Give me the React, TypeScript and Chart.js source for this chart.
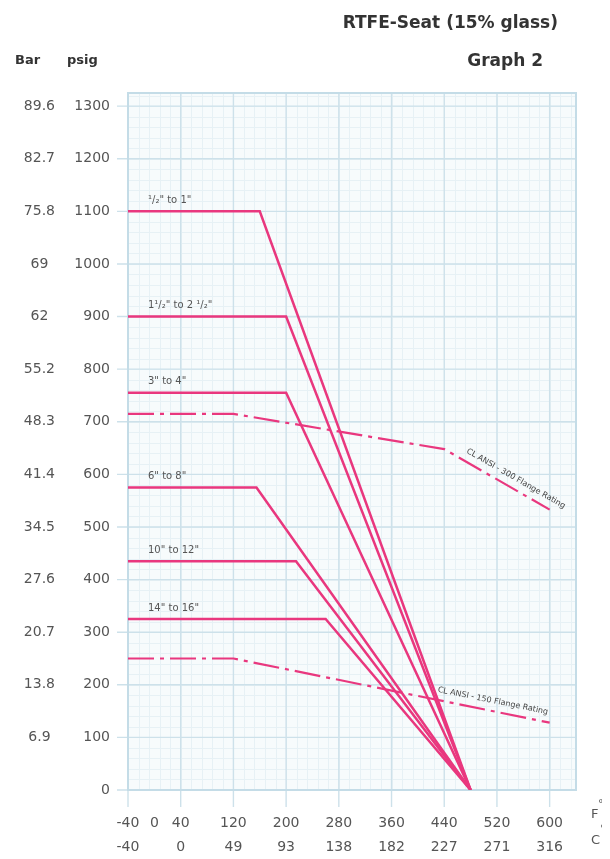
import React, { useEffect, useRef } from 'react';
import { Chart, registerables } from 'chart.js';

Chart.register(...registerables);

// ---- axis ticks ----
const fTickValues = [-40, 0, 40, 120, 200, 280, 360, 440, 520, 600];
const fTickLabels = ['-40', '0', '40', '120', '200', '280', '360', '440', '520', '600'];
const cTickLabels = ['-40', '', '0', '49', '93', '138', '182', '227', '271', '316'];
const psigTicks = [0, 100, 200, 300, 400, 500, 600, 700, 800, 900, 1000, 1100, 1200, 1300];
const barTickLabels = ['', '6.9', '13.8', '20.7', '27.6', '34.5', '41.4', '48.3', '55.2', '62', '69', '75.8', '82.7', '89.6'];

// ---- seat rating series (°F, psig) ----
const halfTo1Label = '\u00B9/\u2082" to 1"';
const halfTo1Temps = [-40, 160, 480];
const halfTo1Psig = [1100, 1100, 0];

const oneHalfTo2HalfLabel = '1\u00B9/\u2082" to 2 \u00B9/\u2082"';
const oneHalfTo2HalfTemps = [-40, 200, 480];
const oneHalfTo2HalfPsig = [900, 900, 0];

const threeTo4Label = '3" to 4"';
const threeTo4Temps = [-40, 200, 480];
const threeTo4Psig = [755, 755, 0];

const sixTo8Label = '6" to 8"';
const sixTo8Temps = [-40, 155, 480];
const sixTo8Psig = [575, 575, 0];

const tenTo12Label = '10" to 12"';
const tenTo12Temps = [-40, 215, 480];
const tenTo12Psig = [435, 435, 0];

const fourteenTo16Label = '14" to 16"';
const fourteenTo16Temps = [-40, 260, 480];
const fourteenTo16Psig = [325, 325, 0];

// ---- flange ratings ----
const ansi300Label = 'CL ANSI - 300 Flange Rating';
const ansi300Temps = [-40, 120, 440, 600];
const ansi300Psig = [715, 715, 648, 533];

const ansi150Label = 'CL ANSI - 150 Flange Rating';
const ansi150Temps = [-40, 120, 600];
const ansi150Psig = [250, 250, 128];

const PINK = '#e9377e';
const FONT = "'DejaVu Sans', sans-serif";

const toPoints = (t: number[], p: number[]) => t.map((x, i) => ({ x, y: p[i] }));

const solidSeries = [
  { label: halfTo1Label, t: halfTo1Temps, p: halfTo1Psig },
  { label: oneHalfTo2HalfLabel, t: oneHalfTo2HalfTemps, p: oneHalfTo2HalfPsig },
  { label: threeTo4Label, t: threeTo4Temps, p: threeTo4Psig },
  { label: sixTo8Label, t: sixTo8Temps, p: sixTo8Psig },
  { label: tenTo12Label, t: tenTo12Temps, p: tenTo12Psig },
  { label: fourteenTo16Label, t: fourteenTo16Temps, p: fourteenTo16Psig },
];

const gridPlugin = {
  id: 'paperGrid',
  beforeDatasetsDraw(chart: any) {
    const { ctx, chartArea: a, scales } = chart;
    const xs = scales.x;
    const ys = scales.y;
    ctx.save();
    ctx.fillStyle = '#f7fbfc';
    ctx.fillRect(a.left, a.top, a.right - a.left, a.bottom - a.top);
    // minor
    ctx.strokeStyle = '#e7f1f5';
    ctx.lineWidth = 1;
    for (let v = -40; v <= 640; v += 16) {
      const x = Math.round(xs.getPixelForValue(v)) + 0.5;
      ctx.beginPath(); ctx.moveTo(x, a.top); ctx.lineTo(x, a.bottom); ctx.stroke();
    }
    for (let v = 0; v <= 1320; v += 20) {
      const y = Math.round(ys.getPixelForValue(v)) + 0.5;
      ctx.beginPath(); ctx.moveTo(a.left, y); ctx.lineTo(a.right, y); ctx.stroke();
    }
    // major
    ctx.strokeStyle = '#cde1ea';
    ctx.lineWidth = 1.4;
    for (let v = -40; v <= 600; v += 80) {
      const x = xs.getPixelForValue(v);
      ctx.beginPath(); ctx.moveTo(x, a.top); ctx.lineTo(x, a.bottom + 17); ctx.stroke();
    }
    for (const v of psigTicks) {
      const y = ys.getPixelForValue(v);
      ctx.beginPath(); ctx.moveTo(a.left - 11, y); ctx.lineTo(a.right, y); ctx.stroke();
    }
    ctx.strokeStyle = '#c4dce7';
    ctx.lineWidth = 2;
    ctx.strokeRect(a.left, a.top, a.right - a.left, a.bottom - a.top);
    ctx.restore();
  },
  afterDatasetsDraw(chart: any) {
    const { ctx, scales } = chart;
    const xs = scales.x;
    const ys = scales.y;
    ctx.save();
    ctx.fillStyle = '#555';
    ctx.font = `10px ${FONT}`;
    ctx.textBaseline = 'middle';
    ctx.textAlign = 'left';
    for (const s of solidSeries) {
      ctx.fillText(s.label, xs.getPixelForValue(s.t[0]) + 20, ys.getPixelForValue(s.p[0]) - 11);
    }
    const slanted = (label: string, t: number[], p: number[], seg: number, frac: number) => {
      const x1 = xs.getPixelForValue(t[seg]);
      const y1 = ys.getPixelForValue(p[seg]);
      const x2 = xs.getPixelForValue(t[seg + 1]);
      const y2 = ys.getPixelForValue(p[seg + 1]);
      const ang = Math.atan2(y2 - y1, x2 - x1);
      ctx.save();
      ctx.translate(x1 + (x2 - x1) * frac, y1 + (y2 - y1) * frac);
      ctx.rotate(ang);
      ctx.font = `8px ${FONT}`;
      ctx.fillStyle = '#444';
      ctx.fillText(label, 0, -10);
      ctx.restore();
    };
    slanted(ansi300Label, ansi300Temps, ansi300Psig, 2, 0.17);
    slanted(ansi150Label, ansi150Temps, ansi150Psig, 1, 0.64);
    ctx.restore();
  },
};

function RatingChart() {
  const ref = useRef<HTMLCanvasElement | null>(null);
  useEffect(() => {
    if (!ref.current) return;
    const datasets: any[] = solidSeries.map((s) => ({
      label: s.label,
      data: toPoints(s.t, s.p),
      borderColor: PINK,
      borderWidth: 2.5,
      pointRadius: 0,
      tension: 0,
    }));
    datasets.push({
      label: ansi300Label,
      data: toPoints(ansi300Temps, ansi300Psig),
      borderColor: PINK,
      borderWidth: 2.2,
      borderDash: [26, 6, 4, 6],
      pointRadius: 0,
      tension: 0,
    });
    datasets.push({
      label: ansi150Label,
      data: toPoints(ansi150Temps, ansi150Psig),
      borderColor: PINK,
      borderWidth: 2.2,
      borderDash: [26, 6, 4, 6],
      pointRadius: 0,
      tension: 0,
    });
    const tickFont = { family: FONT, size: 14 };
    const chart = new Chart(ref.current, {
      type: 'line',
      data: { datasets },
      plugins: [gridPlugin],
      options: {
        animation: false,
        responsive: true,
        maintainAspectRatio: false,
        layout: { padding: { top: 85, right: 26, left: 0, bottom: 0 } },
        plugins: { legend: { display: false }, tooltip: { enabled: false } },
        scales: {
          x: {
            type: 'linear',
            min: -40,
            max: 640,
            afterBuildTicks: (s: any) => { s.ticks = fTickValues.map((v) => ({ value: v })); },
            afterFit: (s: any) => { s.height = 61; },
            grid: { display: false, drawTicks: false },
            border: { display: false },
            ticks: {
              autoSkip: false,
              maxRotation: 0,
              minRotation: 0,
              padding: 21,
              color: '#555',
              font: { ...tickFont, lineHeight: 24 / 14 },
              callback: (_v: any, i: number) => [fTickLabels[i], cTickLabels[i]],
            },
          },
          y: {
            type: 'linear',
            position: 'left',
            weight: 1,
            min: 0,
            max: 1325,
            afterBuildTicks: (s: any) => { s.ticks = psigTicks.map((v) => ({ value: v })); },
            afterFit: (s: any) => { s.width = 68; },
            grid: { display: false, drawTicks: false },
            border: { display: false },
            ticks: { padding: 18, color: '#555', font: tickFont, callback: (v: any) => String(v) },
          },
          bar: {
            type: 'linear',
            position: 'left',
            weight: 2,
            min: 0,
            max: 1325,
            afterBuildTicks: (s: any) => { s.ticks = psigTicks.map((v) => ({ value: v })); },
            afterFit: (s: any) => { s.width = 52; },
            grid: { display: false, drawTicks: false },
            border: { display: false },
            ticks: {
              padding: 5,
              crossAlign: 'center',
              color: '#555',
              font: tickFont,
              callback: (_v: any, i: number) => barTickLabels[i],
            },
          },
        },
      } as any,
    });
    return () => chart.destroy();
  }, []);

  const head: React.CSSProperties = {
    position: 'absolute',
    fontFamily: FONT,
    fontWeight: 'bold',
    color: '#333',
    whiteSpace: 'nowrap',
  };
  const unit: React.CSSProperties = {
    position: 'absolute',
    fontFamily: FONT,
    fontSize: 13,
    color: '#555',
    lineHeight: '20px',
    whiteSpace: 'nowrap',
  };
  return (
    <div style={{ position: 'relative', width: 594, height: 843, background: '#fff' }}>
      <canvas ref={ref} style={{ position: 'absolute', left: 0, top: 0 }} />
      <div style={{ ...head, right: 44, top: 4, fontSize: 17, lineHeight: '20px' }}>RTFE-Seat (15% glass)</div>
      <div style={{ ...head, right: 59, top: 42, fontSize: 17, lineHeight: '20px' }}>Graph 2</div>
      <div style={{ ...head, left: 7, top: 44, fontSize: 13, lineHeight: '16px' }}>Bar</div>
      <div style={{ ...head, left: 59, top: 44, fontSize: 13, lineHeight: '16px' }}>psig</div>
      <div style={{ ...unit, left: 583, top: 796 }}>F</div>
      <div style={{ ...unit, left: 590, top: 786, fontSize: 11 }}>°</div>
      <div style={{ ...unit, left: 583, top: 822 }}>C</div>
      <div style={{ ...unit, left: 592, top: 811, fontSize: 11 }}>°</div>
    </div>
  );
}

export default function App() {
  return (
    <div style={{ width: 594, height: 843, position: 'relative' }}>
      <RatingChart />
    </div>
  );
}
